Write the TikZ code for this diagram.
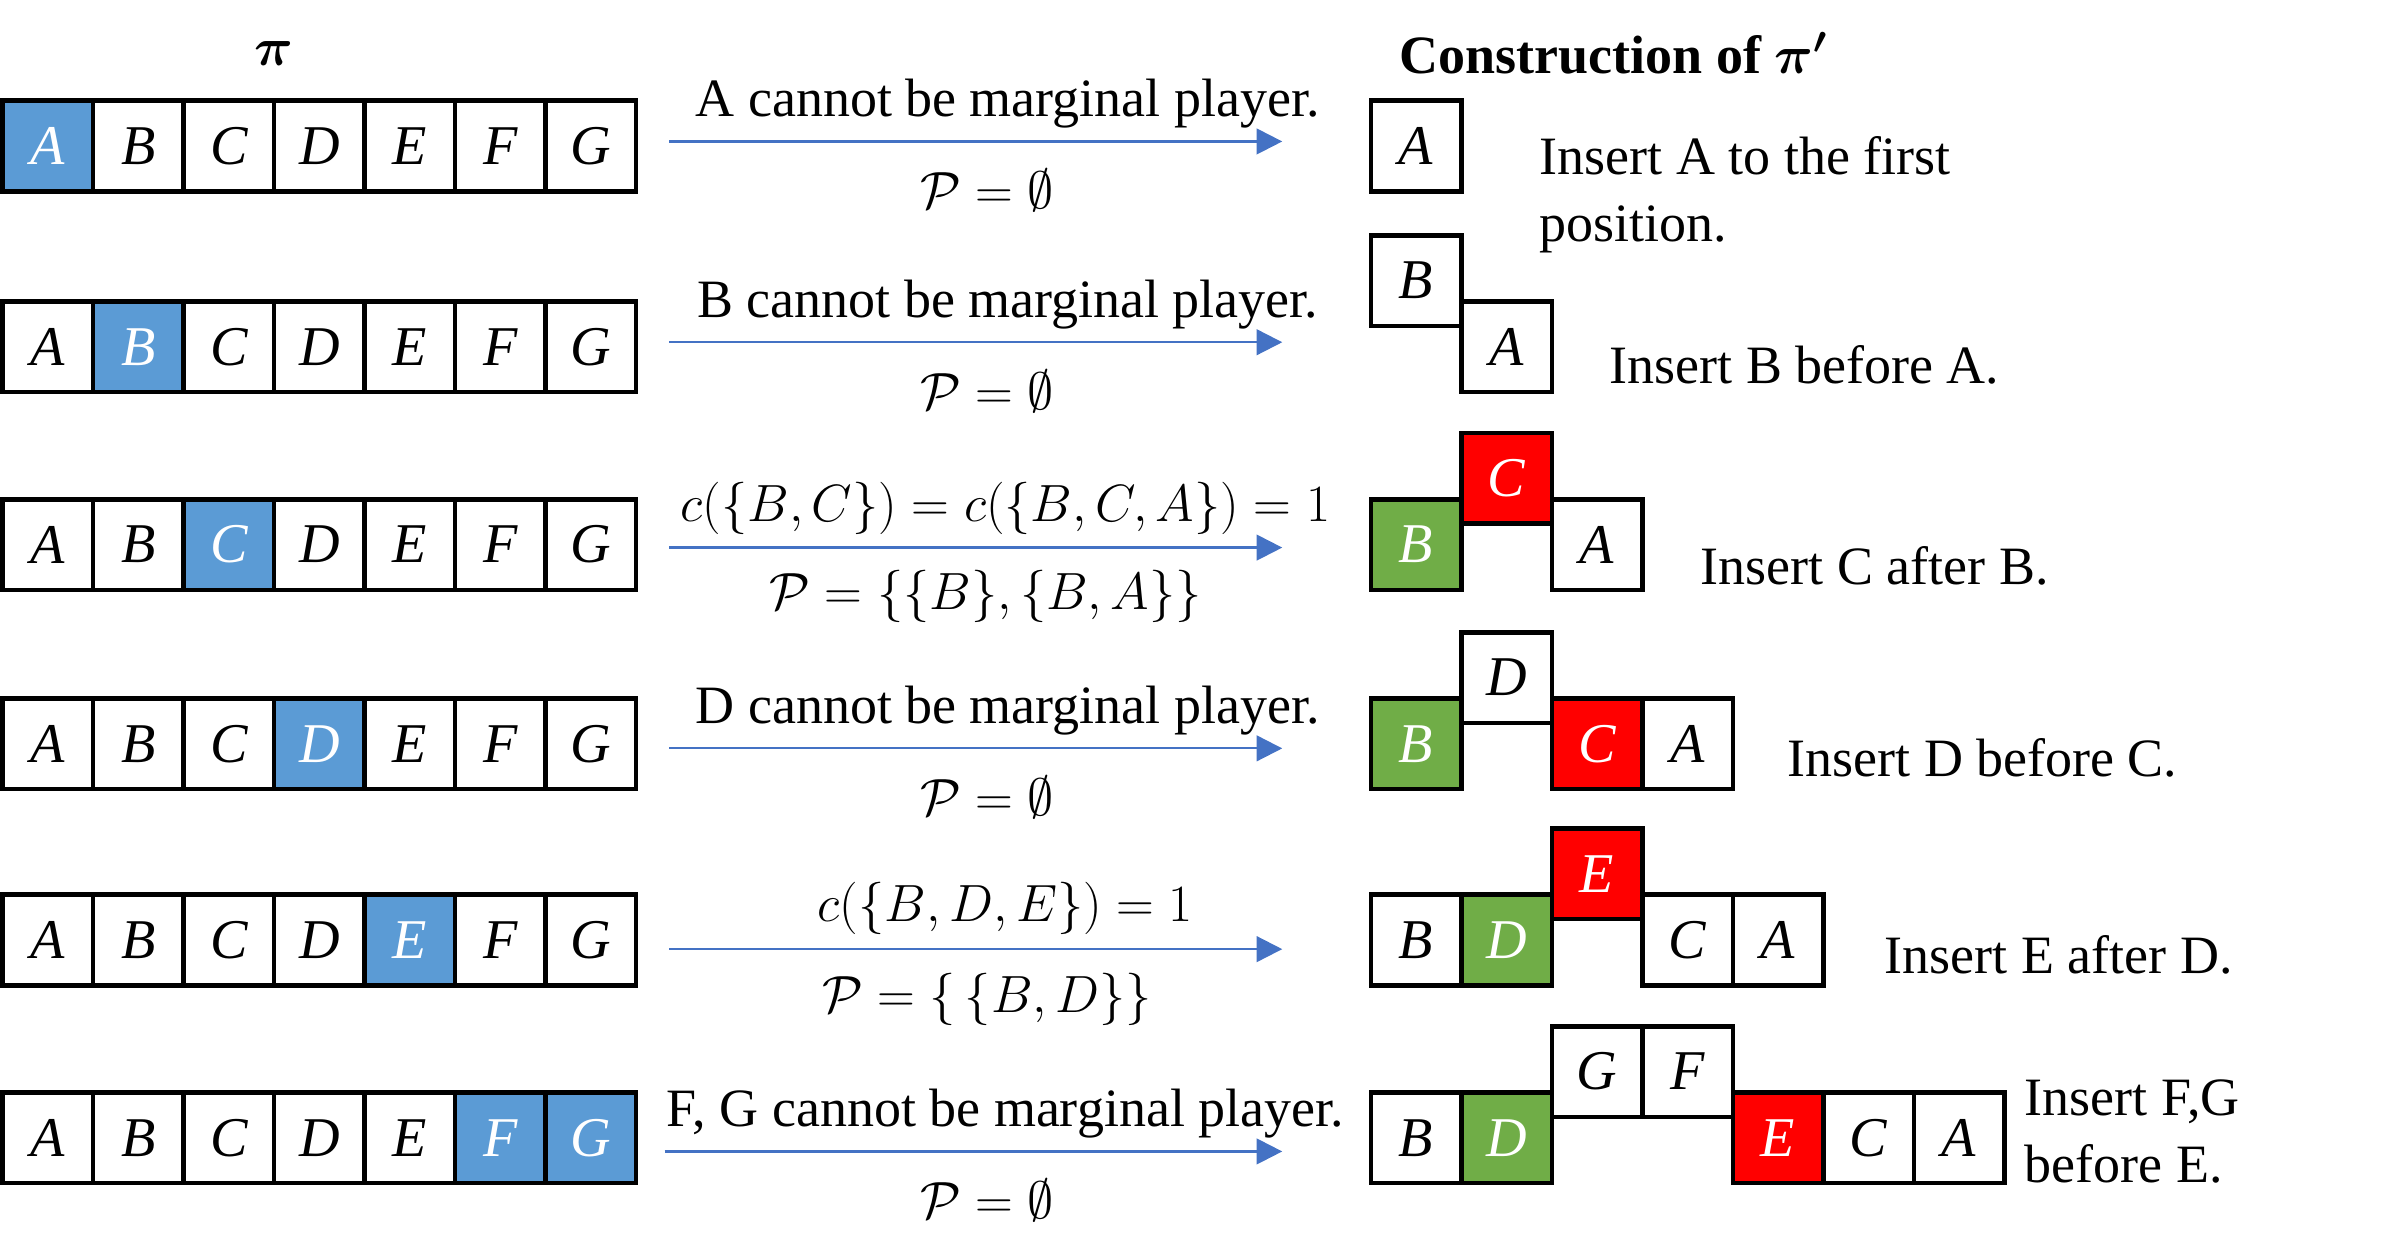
\RequirePackage{fix-cm}
\documentclass[tikz,border=0pt]{standalone}
\usepackage{amsmath, amssymb, bm}
\usepackage{fontspec}
\setmainfont{Liberation Serif}
\usepackage{xcolor}
\definecolor{cellblue}{RGB}{91, 155, 213}
\definecolor{cellgreen}{RGB}{112, 173, 71}
\definecolor{cellred}{RGB}{255, 0, 0}
\definecolor{arrowblue}{RGB}{68, 114, 196}
\usepackage{tikz}
\usetikzlibrary{arrows.meta, positioning}

\begin{document}
\begin{tikzpicture}[node distance=0pt,
        cell/.style={rectangle, draw=black, fill=white, line width=1.7pt, minimum width=1.19cm, minimum height=1.19cm, inner sep=0pt, outer sep=0pt, font=\fontsize{21}{21}\selectfont\itshape},
        current/.style={cell, fill=cellblue, text=white},
        partner/.style={cell, fill=cellgreen, text=white},
        inserted/.style={cell, fill=cellred, text=white},
        note/.style={font=\fontsize{20.2}{25}\selectfont},
        formula/.style={font=\fontsize{19.6}{24}\selectfont},
        remark/.style={note, anchor=west, align=left},
        flow/.style={draw=arrowblue, line width=0.85pt, -{Triangle[length=9.6pt, width=9.6pt]}}]

        \useasboundingbox (0,0) rectangle (31.36,16.44);

        % headers
        \node [note] (pi) at (3.6,15.74) {$\bm{\pi}$};
        \node [note] (head) at (21.22,15.74) {\textbf{Construction of $\bm{\pi'}$}};

        % permutation rows
        \node [current] (r1a) at (0.63,14.52) {A};
        \node [cell, right=of r1a] (r1b) {B};
        \node [cell, right=of r1b] (r1c) {C};
        \node [cell, right=of r1c] (r1d) {D};
        \node [cell, right=of r1d] (r1e) {E};
        \node [cell, right=of r1e] (r1f) {F};
        \node [cell, right=of r1f] (r1g) {G};

        \node [cell] (r2a) at (0.63,11.88) {A};
        \node [current, right=of r2a] (r2b) {B};
        \node [cell, right=of r2b] (r2c) {C};
        \node [cell, right=of r2c] (r2d) {D};
        \node [cell, right=of r2d] (r2e) {E};
        \node [cell, right=of r2e] (r2f) {F};
        \node [cell, right=of r2f] (r2g) {G};

        \node [cell] (r3a) at (0.63,9.28) {A};
        \node [cell, right=of r3a] (r3b) {B};
        \node [current, right=of r3b] (r3c) {C};
        \node [cell, right=of r3c] (r3d) {D};
        \node [cell, right=of r3d] (r3e) {E};
        \node [cell, right=of r3e] (r3f) {F};
        \node [cell, right=of r3f] (r3g) {G};

        \node [cell] (r4a) at (0.63,6.66) {A};
        \node [cell, right=of r4a] (r4b) {B};
        \node [cell, right=of r4b] (r4c) {C};
        \node [current, right=of r4c] (r4d) {D};
        \node [cell, right=of r4d] (r4e) {E};
        \node [cell, right=of r4e] (r4f) {F};
        \node [cell, right=of r4f] (r4g) {G};

        \node [cell] (r5a) at (0.63,4.08) {A};
        \node [cell, right=of r5a] (r5b) {B};
        \node [cell, right=of r5b] (r5c) {C};
        \node [cell, right=of r5c] (r5d) {D};
        \node [current, right=of r5d] (r5e) {E};
        \node [cell, right=of r5e] (r5f) {F};
        \node [cell, right=of r5f] (r5g) {G};

        \node [cell] (r6a) at (0.63,1.48) {A};
        \node [cell, right=of r6a] (r6b) {B};
        \node [cell, right=of r6b] (r6c) {C};
        \node [cell, right=of r6c] (r6d) {D};
        \node [cell, right=of r6d] (r6e) {E};
        \node [current, right=of r6e] (r6f) {F};
        \node [current, right=of r6f] (r6g) {G};

        % arrows and conditions
        \coordinate (s1) at (8.8,14.58);  \coordinate (t1) at (16.86,14.58);
        \coordinate (s2) at (8.8,11.94);  \coordinate (t2) at (16.86,11.94);
        \coordinate (s3) at (8.8,9.24);   \coordinate (t3) at (16.86,9.24);
        \coordinate (s4) at (8.8,6.60);   \coordinate (t4) at (16.86,6.60);
        \coordinate (s5) at (8.8,3.96);   \coordinate (t5) at (16.86,3.96);
        \coordinate (s6) at (8.74,1.30);  \coordinate (t6) at (16.86,1.30);

        \path [flow] (s1) -- (t1);
        \path [flow] (s2) -- (t2);
        \path [flow] (s3) -- (t3);
        \path [flow] (s4) -- (t4);
        \path [flow] (s5) -- (t5);
        \path [flow] (s6) -- (t6);

        \node [note] (m1) at (13.25,15.08) {A cannot be marginal player.};
        \node [formula] (p1) at (12.98,13.94) {$\mathcal{P}=\emptyset$};
        \node [note] (m2) at (13.25,12.44) {B cannot be marginal player.};
        \node [formula] (p2) at (12.98,11.30) {$\mathcal{P}=\emptyset$};
        \node [formula] (m3) at (13.22,9.76) {$c(\{B,C\})=c(\{B,C,A\})=1$};
        \node [formula] (p3) at (12.96,8.60) {$\mathcal{P}=\{\{B\},\{B,A\}\}$};
        \node [note] (m4) at (13.25,7.10) {D cannot be marginal player.};
        \node [formula] (p4) at (12.98,5.96) {$\mathcal{P}=\emptyset$};
        \node [formula] (m5) at (13.22,4.50) {$c(\{B,D,E\})=1$};
        \node [formula] (p5) at (12.98,3.30) {$\mathcal{P}=\{\,\{B,D\}\}$};
        \node [note] (m6) at (13.22,1.80) {F, G cannot be marginal player.};
        \node [formula] (p6) at (12.98,0.66) {$\mathcal{P}=\emptyset$};

        % construction rows
        \node [cell] (c1a) at (18.62,14.52) {A};

        \node [cell] (c2b) at (18.62,12.75) {B};
        \node [cell, right=of c2b, yshift=-0.87cm] (c2a) {A};

        \node [partner] (c3b) at (18.62,9.28) {B};
        \node [inserted, right=of c3b, yshift=0.87cm] (c3c) {C};
        \node [cell, right=of c3c, yshift=-0.87cm] (c3a) {A};

        \node [partner] (c4b) at (18.62,6.66) {B};
        \node [cell, right=of c4b, yshift=0.87cm] (c4d) {D};
        \node [inserted, right=of c4d, yshift=-0.87cm] (c4c) {C};
        \node [cell, right=of c4c] (c4a) {A};

        \node [cell] (c5b) at (18.62,4.08) {B};
        \node [partner, right=of c5b] (c5d) {D};
        \node [inserted, right=of c5d, yshift=0.87cm] (c5e) {E};
        \node [cell, right=of c5e, yshift=-0.87cm] (c5c) {C};
        \node [cell, right=of c5c] (c5a) {A};

        \node [cell] (c6b) at (18.62,1.48) {B};
        \node [partner, right=of c6b] (c6d) {D};
        \node [cell, right=of c6d, yshift=0.87cm] (c6g) {G};
        \node [cell, right=of c6g] (c6f) {F};
        \node [inserted, right=of c6f, yshift=-0.87cm] (c6e) {E};
        \node [cell, right=of c6e] (c6c) {C};
        \node [cell, right=of c6c] (c6a) {A};

        % insertion remarks
        \node [remark] (i1) at (20.12,13.88) {Insert A to the first\\position.};
        \node [remark] (i2) at (21.04,11.64) {Insert B before A.};
        \node [remark] (i3) at (22.24,9.00) {Insert C after B.};
        \node [remark] (i4) at (23.38,6.48) {Insert D before C.};
        \node [remark] (i5) at (24.66,3.88) {Insert E after D.};
        \node [remark] (i6) at (26.50,1.56) {Insert F,G\\before E.};
    \end{tikzpicture}
\end{document}
